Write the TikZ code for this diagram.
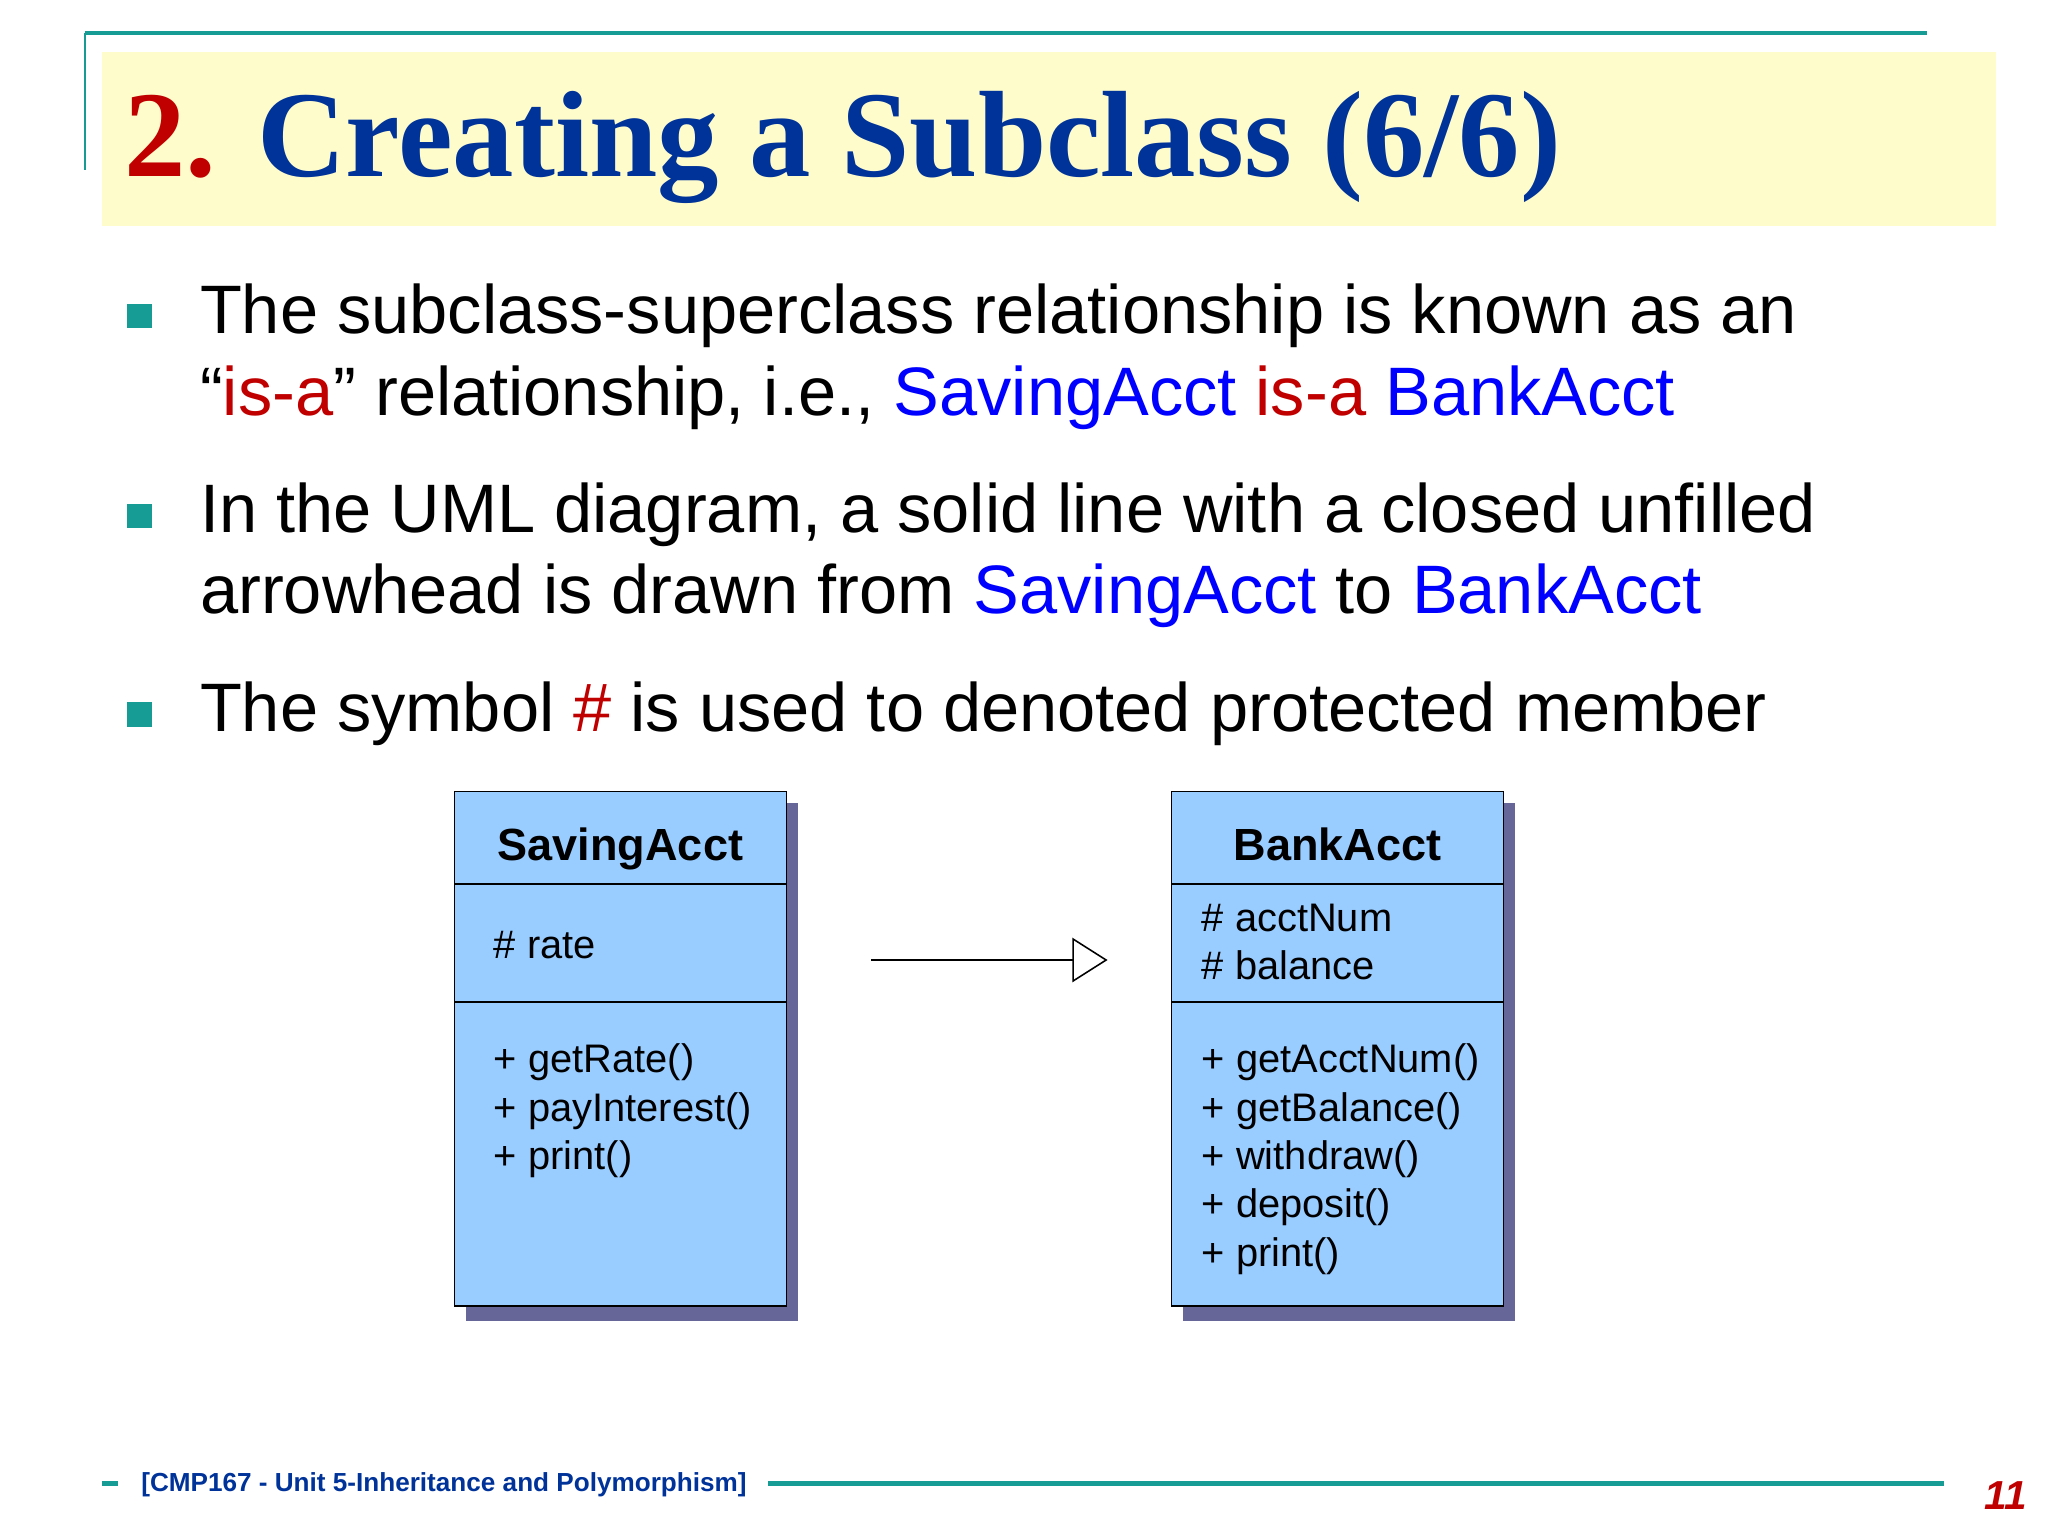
\documentclass[tikz,border=0pt]{standalone}
\usepackage{fontspec}
\setmainfont{Liberation Sans}
\newfontfamily\titlefont{Liberation Serif}
\usetikzlibrary{arrows.meta}
\definecolor{teal1}{HTML}{169C94}
\definecolor{ttl}{HTML}{003399}
\definecolor{rd}{HTML}{C00000}
\definecolor{bl}{HTML}{0000FF}
\definecolor{boxfill}{HTML}{99CCFF}
\definecolor{shad}{HTML}{666699}
\tikzset{
  body/.style={anchor=base west,inner sep=0pt,font=\fontsize{52.5}{60}\selectfont},
  bul/.style={fill=teal1,minimum size=19pt,inner sep=0pt},
  member/.style={anchor=north west,inner sep=0pt,font=\fontsize{30.5}{37}\selectfont,align=left},
  cls/.style={anchor=base,inner sep=0pt,font=\bfseries\fontsize{34.5}{37}\selectfont},
}
\begin{document}
\begin{tikzpicture}[x=1pt,y=-1pt]
\useasboundingbox (0,0) rectangle (1568,1176);
\fill[white] (0,0) rectangle (1568,1176);
% header
\draw[teal1,line width=3pt] (65,25) -- (1475,25);
\draw[teal1,line width=2pt] (65,25) -- (65,130);
\fill[yellow!20] (78,40) rectangle (1528,173);
\node[anchor=base west,inner sep=0pt,font=\titlefont\bfseries\fontsize{94}{96}\selectfont] (title) at (95,135) {\textcolor{rd}{2.} \textcolor{ttl}{Creating a Subclass (6/6)}};
% bullets
\node[bul] (b1) at (107,242) {};
\node[bul] (b2) at (107,395) {};
\node[bul] (b3) at (107,547) {};
\node[body] (t1) at (153,255) {The subclass-superclass relationship is known as an};
\node[body] (t1b) at (153,318) {“\textcolor{rd}{is-a}” relationship, i.e., \textcolor{bl}{SavingAcct} \textcolor{rd}{is-a} \textcolor{bl}{BankAcct}};
\node[body] (t2) at (153,408) {In the UML diagram, a solid line with a closed unfilled};
\node[body] (t2b) at (153,470) {arrowhead is drawn from \textcolor{bl}{SavingAcct} to \textcolor{bl}{BankAcct}};
\node[body] (t3) at (153,560) {The symbol \textcolor{rd}{\#} is used to denoted protected member};
% boxes
\foreach \x in {348,897}{
  \fill[shad] (\x+9,615) rectangle (\x+263,1011);
  \draw[fill=boxfill,line width=1.2pt] (\x,606) rectangle (\x+254,1000);
  \draw[line width=1.2pt] (\x,677) -- (\x+254,677);
  \draw[line width=1.2pt] (\x,767) -- (\x+254,767);
}
\node[cls] (sa) at (475,659) {SavingAcct};
\node[cls] (ba) at (1024,659) {BankAcct};
\node[member] (sa1) at (378,713) {\# rate};
\node[member] (sa2) at (378,799) {+ getRate()\\+ payInterest()\\+ print()};
\node[member] (ba1) at (920,692) {\# acctNum\\\# balance};
\node[member] (ba2) at (920,799) {+ getAcctNum()\\+ getBalance()\\+ withdraw()\\+ deposit()\\+ print()};
\coordinate (as) at (667,735);
\coordinate (ae) at (848,735);
\draw[line width=1.2pt,-{Triangle[open,length=27pt,width=34pt]}] (as) -- (ae);
% footer
\draw[teal1,line width=4pt] (78,1136) -- (90,1136);
\node[anchor=base west,inner sep=0pt,font=\bfseries\fontsize{20}{22}\selectfont,text=ttl] (ft) at (108,1142) {[CMP167 - Unit 5-Inheritance and Polymorphism]};
\draw[teal1,line width=4pt] (588,1136) -- (1488,1136);
\node[anchor=base east,inner sep=0pt,font=\bfseries\itshape\fontsize{31}{34}\selectfont,text=rd] (pg) at (1552,1156) {11};
\end{tikzpicture}
\end{document}
